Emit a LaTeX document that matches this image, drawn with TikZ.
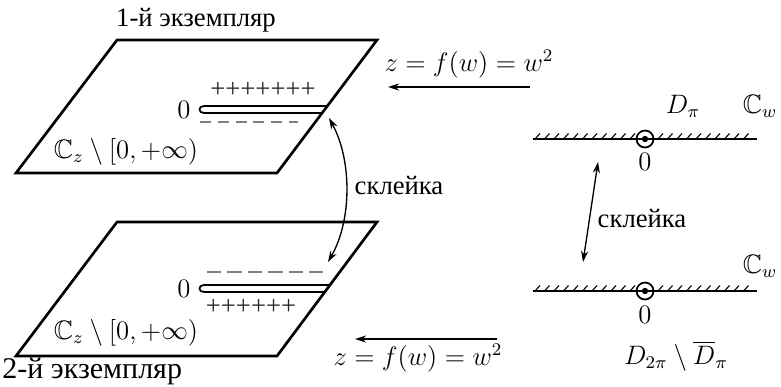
\documentclass[tikz,border=0pt]{standalone}
\usepackage{amssymb}
\usepackage{fontspec}
\newfontfamily\cyr{LiberationSerif}[Extension=.ttf, UprightFont=*-Regular]
\usetikzlibrary{arrows.meta}
\begin{document}
\begin{tikzpicture}[x=0.45pt,y=-0.45pt,
  plane/.style={line width=1.2pt, line join=miter},
  slit/.style={line width=0.8pt},
  tip/.tip={Stealth[length=5pt,width=3.2pt]},
  arr/.style={-tip, line width=0.6pt},
  darr/.style={tip-tip, line width=0.6pt},
  minusrow/.style={gray, line width=0.5pt},
  hatchline/.style={line width=0.5pt},
  lbl/.style={inner sep=0pt, font=\fontsize{12}{14}\selectfont},
  cyrlbl/.style={inner sep=0pt, font=\cyr\fontsize{12}{14}\selectfont},
  plus/.style={inner sep=0pt, font=\cyr\fontsize{12}{14}\selectfont, text=black!85},
]
\useasboundingbox (0,0) rectangle (781,386);

% ---- upper sheet ----
\coordinate (u1) at (117,40); \coordinate (u2) at (377,40);
\coordinate (u3) at (277,173); \coordinate (u4) at (16,173);
\draw[plane] (u1) -- (u2) -- (u3) -- (u4) -- cycle;
\coordinate (us1) at (327.4,106); \coordinate (us2) at (322.1,113);
\draw[slit] (us1) -- (204,106) .. controls (198,106) and (198,113) .. (204,113) -- (us2);
\node[plus] (uplus) at (263,90) {+++++++};
\draw[minusrow, dash pattern=on 5pt off 3pt] (200,122) -- (298,122);
\node[lbl] (uzero) at (184,110) {$0$};
\node[lbl] (uC) at (126,152) {$\mathbb{C}_z\setminus[0,+\infty)$};
\node[cyrlbl] (utitle) at (196,20) {1-й экземпляр};

% ---- lower sheet ----
\coordinate (l1) at (117,222); \coordinate (l2) at (377,222);
\coordinate (l3) at (277,356); \coordinate (l4) at (16,356);
\draw[plane] (l1) -- (l2) -- (l3) -- (l4) -- cycle;
\coordinate (ls1) at (330.0,285); \coordinate (ls2) at (324.8,292);
\draw[slit] (ls1) -- (204,285) .. controls (198,285) and (198,292) .. (204,292) -- (ls2);
\draw[minusrow, dash pattern=on 6.4pt off 2.8pt] (207,272) -- (326,272);
\node[plus] (lplus) at (251,307) {++++++};
\node[lbl] (lzero) at (184,289) {$0$};
\node[lbl] (lC) at (126,333) {$\mathbb{C}_z\setminus[0,+\infty)$};
\node[inner sep=0pt, font=\cyr\fontsize{13.5}{15}\selectfont, anchor=west] (ltitle) at (2,371) {2-й экземпляр};

% ---- gluing arrow between sheets ----
\coordinate (ga) at (329,118); \coordinate (gb) at (328,262);
\draw[darr] (ga) .. controls (352,160) and (352,220) .. (gb);
\node[cyrlbl] (glue1) at (399,185) {склейка};

% ---- mapping arrows ----
\coordinate (m1s) at (530,87); \coordinate (m1e) at (388,87);
\draw[arr] (m1s) -- (m1e);
\node[lbl] (map1) at (469,64) {$z=f(w)=w^2$};
\coordinate (m2s) at (497,339); \coordinate (m2e) at (355,339);
\draw[arr] (m2s) -- (m2e);
\node[lbl] (map2) at (418,358) {$z=f(w)=w^2$};

% ---- right upper line ----
\coordinate (ra) at (533,139); \coordinate (rb) at (757,139);
\draw[line width=0.7pt] (ra) -- (rb);
\foreach \x in {535,544.5,...,630} {\draw[hatchline] (\x,139) -- (\x+5,133.5);}
\foreach \x in {658,667.5,...,752} {\draw[hatchline] (\x,139) -- (\x+5,133.5);}
\node[circle, draw, line width=0.8pt, minimum size=17*0.45pt, inner sep=0pt] (c1) at (645,139) {};
\fill (c1.center) circle (3.2);
\node[lbl] (rz1) at (645,162) {$0$};
\node[lbl] (Dpi) at (683,106) {$D_\pi$};
\node[lbl] (Cw1) at (760,106) {$\mathbb{C}_w$};

% ---- right lower line ----
\coordinate (rc) at (533,291); \coordinate (rd) at (757,291);
\draw[line width=0.7pt] (rc) -- (rd);
\foreach \x in {535,544.5,...,630} {\draw[hatchline] (\x,291) -- (\x+5,285.5);}
\foreach \x in {658,667.5,...,752} {\draw[hatchline] (\x,291) -- (\x+5,285.5);}
\node[circle, draw, line width=0.8pt, minimum size=17*0.45pt, inner sep=0pt] (c2) at (645,291) {};
\fill (c2.center) circle (3.2);
\node[lbl] (rz2) at (645,315) {$0$};
\node[lbl] (D2pi) at (676,356) {$D_{2\pi}\setminus\overline{D}_\pi$};
\node[lbl] (Cw2) at (760,266) {$\mathbb{C}_w$};

% ---- right gluing arrow ----
\coordinate (rg1) at (598,162); \coordinate (rg2) at (583,262);
\draw[darr] (rg1) -- (rg2);
\node[cyrlbl] (glue2) at (642,218) {склейка};
\end{tikzpicture}
\end{document}
